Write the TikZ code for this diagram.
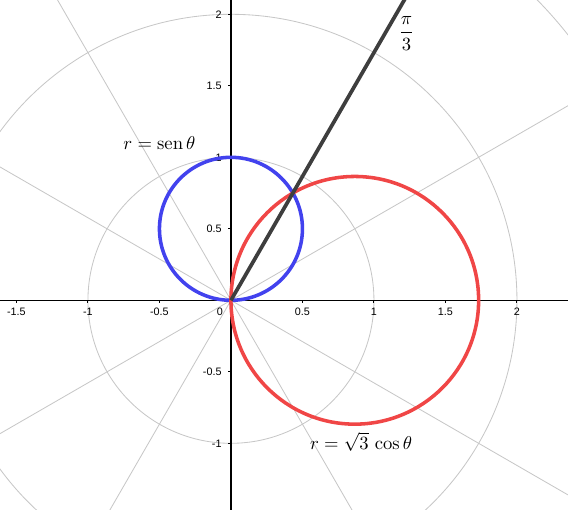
\documentclass[tikz,border=0pt]{standalone}
\usepackage{amsmath}
\usepackage{fontspec}
\newfontfamily\tickfont{Liberation Sans}
\definecolor{curveblue}{RGB}{66,66,238}
\definecolor{curvered}{RGB}{240,70,70}
\definecolor{raygray}{RGB}{62,62,62}
\tikzset{
  gridline/.style={draw=black!22, line width=0.45pt},
  axisline/.style={draw=black, line width=0.7pt},
  ticklabel/.style={font=\tickfont\fontsize{5.8}{6.5}\selectfont, inner sep=0pt},
  polarcurve/.style={line width=1.9pt}
}
\begin{document}
\begin{tikzpicture}[x=2.7cm, y=2.7cm]
    \def\xmin{-1.615}
    \def\xmax{2.357}
    \def\ymin{-1.466}
    \def\ymax{2.100}

    \useasboundingbox (\xmin,\ymin) rectangle (\xmax,\ymax);
    \clip (\xmin,\ymin) rectangle (\xmax,\ymax);

    \coordinate (O) at (0,0);

    % polar grid
    \foreach \r in {1,2,3}
        \draw[gridline] (O) circle (\r);
    \foreach \a in {30,60,120,150,210,240,300,330}
        \draw[gridline] (O) -- (\a:4);

    % axes
    \draw[axisline] (\xmin,0) -- (\xmax,0);
    \draw[axisline] (0,\ymin) -- (0,\ymax);

    \foreach \x in {-1.5,-1,-0.5,0.5,1,1.5,2}
        \draw[axisline, line width=0.5pt] (\x,0) -- ++(0,-1.6pt) node [ticklabel, anchor=north, yshift=-2.3pt] {\x};
    \foreach \y in {-1,-0.5,0.5,1,1.5,2}
        \draw[axisline, line width=0.5pt] (0,\y) -- ++(-1.6pt,0) node [ticklabel, anchor=east, xshift=-3.2pt] {\y};
    \node [ticklabel, anchor=north east] (zero) at (-4.2pt,-3.9pt) {0};

    % curves
    \draw[polarcurve, curveblue] (0,0.5) circle (0.5);
    \draw[polarcurve, curvered] ({sqrt(3)/2},0) circle ({sqrt(3)/2});
    \draw[raygray, line width=2pt] (O) -- (60:3);

    \node (senlabel) at (-0.50,1.10) {$r=\operatorname{sen}\theta$};
    \node (coslabel) at (0.91,-0.99) {$r=\sqrt{3}\,\cos\theta$};
    \node (anglelabel) at (1.227,1.866) {$\dfrac{\pi}{3}$};
\end{tikzpicture}
\end{document}
